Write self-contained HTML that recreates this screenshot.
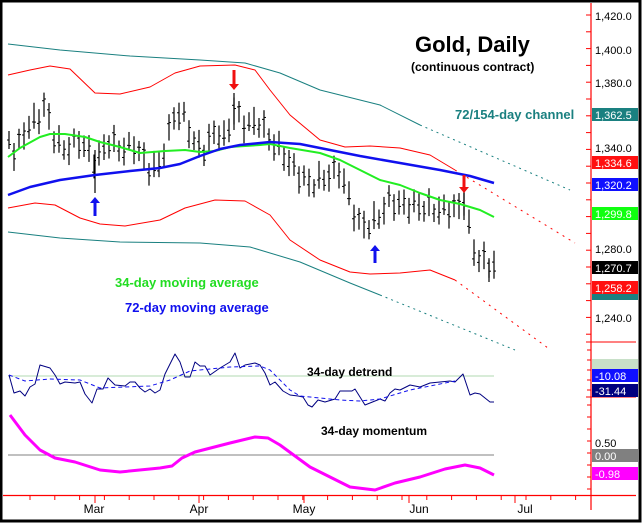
<!DOCTYPE html>
<html><head><meta charset="utf-8">
<style>
html,body{margin:0;padding:0;background:#fff;}
svg{display:block;font-family:"Liberation Sans",Arial,sans-serif;}
</style></head>
<body>
<svg id="c" width="642" height="524" viewBox="0 0 642 524" xmlns="http://www.w3.org/2000/svg">
<rect x="0" y="0" width="642" height="524" fill="#fff"/>
<rect x="1" y="1" width="639" height="520" fill="none" stroke="#000" stroke-width="3"/>
<g id="g"></g>
<line x1="591" y1="3" x2="591" y2="510" stroke="#f00" stroke-width="1.2"/>
<line x1="3" y1="495.5" x2="636" y2="495.5" stroke="#f00" stroke-width="1.2"/>
<line x1="586" y1="342" x2="636" y2="342" stroke="#f00"/>
<line x1="586" y1="397" x2="636" y2="397" stroke="#f00"/>
<g font-size="11" fill="#000">
<text x="595" y="20">1,420.0</text>
<text x="595" y="54">1,400.0</text>
<text x="595" y="87">1,380.0</text>
<text x="595" y="152">1,340.0</text>
<text x="595" y="253">1,280.0</text>
<text x="595" y="290">1,260.0</text>
<text x="595" y="322">1,240.0</text>
<text x="595" y="373">10.00</text>
<text x="595" y="447">0.50</text>
</g>
<g font-size="11" fill="#fff">
<rect x="592" y="108" width="46" height="13" fill="#1a8080"/><text x="595" y="119">1,362.5</text>
<rect x="592" y="156" width="46" height="13" fill="#ff1010"/><text x="595" y="167">1,334.6</text>
<rect x="592" y="178" width="46" height="13" fill="#1010ff"/><text x="595" y="189">1,320.2</text>
<rect x="592" y="207" width="46" height="13" fill="#10ff10"/><text x="595" y="218">1,299.8</text>
<rect x="592" y="291" width="46" height="9" fill="#1a8080"/>
<rect x="592" y="261" width="46" height="13" fill="#000"/><text x="595" y="272">1,270.7</text>
<rect x="592" y="281" width="46" height="13" fill="#ff1010"/><text x="595" y="292">1,258.2</text>
<rect x="592" y="359" width="46" height="10" fill="#c8e0c8"/>
<rect x="592" y="369" width="46" height="13" fill="#1010ff"/><text x="595" y="380">-10.08</text>
<rect x="592" y="384" width="46" height="13" fill="#000080"/><text x="595" y="395">-31.44</text>
<rect x="592" y="449" width="46" height="13" fill="#808080"/><text x="595" y="460">0.00</text>
<rect x="592" y="467" width="46" height="13" fill="#ff00ff"/><text x="595" y="478">-0.98</text>
</g>
<g font-size="12" fill="#000" text-anchor="middle">
<text x="94" y="513">Mar</text><text x="199" y="513">Apr</text><text x="304" y="513">May</text><text x="419" y="513">Jun</text><text x="525" y="513">Jul</text>
</g>
<text x="415" y="52" font-size="22" font-weight="bold">Gold, Daily</text>
<text x="411" y="71" font-size="12" font-weight="bold">(continuous contract)</text>
<text x="455" y="119" font-size="13" font-weight="bold" fill="#1a8080">72/154-day channel</text>
<text x="115" y="287" font-size="13" font-weight="bold" fill="#22dd22">34-day moving average</text>
<text x="125" y="312" font-size="13" font-weight="bold" fill="#1010ee">72-day moving average</text>
<text x="307" y="376" font-size="12" font-weight="bold">34-day detrend</text>
<text x="321" y="435" font-size="12" font-weight="bold">34-day momentum</text>
</svg>
<script>
var NS="http://www.w3.org/2000/svg",g=document.getElementById("g");
function el(t,a){var e=document.createElementNS(NS,t);for(var k in a)e.setAttribute(k,a[k]);g.appendChild(e);return e;}
function pl(pts,col,w,dash){el("polyline",{points:pts.map(function(p){return p.join(",")}).join(" "),fill:"none",stroke:col,"stroke-width":w,"stroke-dasharray":dash||"none","stroke-linejoin":"round"});}
function interp(pts,x){for(var i=0;i<pts.length-1;i++){if(x>=pts[i][0]&&x<=pts[i+1][0]){var t=(x-pts[i][0])/(pts[i+1][0]-pts[i][0]);return pts[i][1]+t*(pts[i+1][1]-pts[i][1]);}}return pts[pts.length-1][1];}
for(var x=30;x<590;x+=24.8){el("line",{x1:x,y1:495,x2:x,y2:500,stroke:"#f00"});}
[95,199,304,409,515].forEach(function(x){el("line",{x1:x,y1:495,x2:x,y2:503,stroke:"#f00"});});
for(var y=15;y<340;y+=16.8){el("line",{x1:586,y1:y,x2:591,y2:y,stroke:"#f00"});}
for(var y=350;y<395;y+=10){el("line",{x1:587,y1:y,x2:591,y2:y,stroke:"#f00"});}
for(var y=405;y<495;y+=12){el("line",{x1:587,y1:y,x2:591,y2:y,stroke:"#f00"});}
pl([[8,44],[60,50],[130,56],[200,60],[245,63],[280,73],[320,90],[380,105],[420,125]],"#1a8080",1);
pl([[420,125],[570,190]],"#1a8080",1,"2,4");
pl([[8,232],[60,238],[120,242],[200,243],[250,247],[300,262],[350,283],[380,295]],"#1a8080",1);
pl([[380,295],[515,350]],"#1a8080",1,"2,4");
pl([[8,75],[30,70],[50,66],[70,69],[95,93],[120,94],[150,87],[175,73],[200,66],[235,65],[255,70],[270,90],[290,115],[320,140],[345,147],[370,146],[400,148],[430,155],[455,170]],"#f00",1);
pl([[455,170],[575,243]],"#f00",1,"2,5");
pl([[8,208],[35,203],[55,205],[80,218],[100,224],[125,226],[160,220],[185,208],[215,200],[245,201],[270,215],[290,240],[320,260],[350,272],[370,274],[400,273],[430,270],[455,280]],"#f00",1);
pl([[455,280],[548,348]],"#f00",1,"2,5");
var mid=[[9,140],[15,155],[25,130],[40,115],[45,105],[55,140],[65,150],[80,140],[95,162],[110,140],[120,150],[135,145],[150,170],[160,165],[175,112],[185,118],[195,145],[205,150],[215,130],[225,140],[234,110],[245,125],[260,122],[270,140],[285,155],[290,165],[300,175],[310,185],[320,180],[330,175],[340,170],[345,185],[355,215],[360,225],[370,225],[380,215],[390,200],[400,205],[410,205],[440,210],[460,208],[465,195],[470,235],[475,255],[485,262],[494,265]];
for(var i=0;i<98;i++){var x=9+5*i;if(x>494)break;var m=interp(mid,x)+6*Math.sin(i*2.3);var h=9+5*Math.abs(Math.sin(i*1.7));
 el("line",{x1:x,y1:m-h,x2:x,y2:m+h,stroke:"#000","stroke-width":1.2});
 el("line",{x1:x-2,y1:m-h*0.5*Math.sin(i),x2:x,y2:m-h*0.5*Math.sin(i),stroke:"#000"});
 el("line",{x1:x,y1:m+h*0.5*Math.cos(i*1.3),x2:x+2,y2:m+h*0.5*Math.cos(i*1.3),stroke:"#000"});}
el("line",{x1:234,y1:93,x2:234,y2:130,stroke:"#000","stroke-width":1.2});
el("line",{x1:95,y1:150,x2:95,y2:193,stroke:"#000","stroke-width":1.2});
el("line",{x1:464,y1:177,x2:464,y2:220,stroke:"#000","stroke-width":1.2});
el("line",{x1:489,y1:260,x2:489,y2:282,stroke:"#000","stroke-width":1.2});
pl([[8,157],[20,148],[40,137],[50,134],[65,134],[85,137],[100,142],[120,147],[140,153],[165,151],[185,150],[200,152],[215,151],[230,147],[260,145],[270,144],[290,148],[320,153],[340,160],[360,170],[380,180],[400,185],[420,193],[440,200],[460,204],[480,210],[494,217]],"#22ee22",2);
pl([[8,195],[30,187],[60,180],[95,175],[130,171],[160,168],[180,164],[200,156],[220,149],[240,145],[270,142],[300,144],[330,150],[360,156],[400,163],[440,170],[470,176],[494,183]],"#1010ee",2.5);
function arrow(x,y0,y1,col){var d=y1>y0?1:-1;el("line",{x1:x,y1:y0,x2:x,y2:y1-d*5,stroke:col,"stroke-width":3});el("polygon",{points:(x-5)+","+(y1-d*6)+" "+(x+5)+","+(y1-d*6)+" "+x+","+y1,fill:col});}
arrow(234,70,90,"#f01010");arrow(464,175,193,"#f01010");arrow(95,216,197,"#1010ee");arrow(375,263,245,"#1010ee");
pl([[8,376],[494,376]],"#b0d8b0",1);
pl([[8,455],[494,455]],"#808080",1);
pl([[9,375],[14,393],[20,391],[25,396],[30,387],[35,384],[40,365],[50,368],[55,375],[60,384],[65,382],[75,383],[80,382],[85,394],[92,403],[97,389],[103,389],[108,378],[115,385],[125,386],[130,382],[135,382],[140,388],[145,392],[150,389],[155,393],[160,390],[165,374],[175,354],[180,362],[185,377],[190,377],[195,362],[200,366],[205,366],[210,375],[220,368],[230,362],[235,353],[240,368],[245,365],[250,364],[255,363],[260,365],[265,373],[270,385],[275,382],[283,391],[290,395],[298,396],[303,397],[308,405],[312,407],[318,400],[325,402],[335,399],[340,391],[352,391],[355,389],[365,405],[370,403],[380,399],[385,401],[390,393],[395,389],[400,390],[410,385],[420,387],[430,383],[440,382],[450,381],[455,382],[463,374],[470,395],[475,393],[480,394],[485,398],[490,402],[494,402]],"#000080",1);
pl([[9,375],[25,381],[50,379],[80,380],[100,388],[150,386],[170,380],[190,371],[230,367],[260,366],[270,370],[290,390],[300,396],[340,400],[360,401],[380,399],[410,390],[450,382],[455,381]],"#1010ee",1,"4,3");
pl([[10,415],[25,435],[40,450],[55,458],[75,462],[100,470],[120,472],[160,468],[172,466],[182,458],[195,452],[230,443],[255,437],[268,438],[280,445],[295,456],[310,467],[330,477],[350,487],[375,490],[395,483],[420,477],[445,469],[465,465],[480,468],[494,475]],"#ff00ff",3);
</script>
</body></html>
